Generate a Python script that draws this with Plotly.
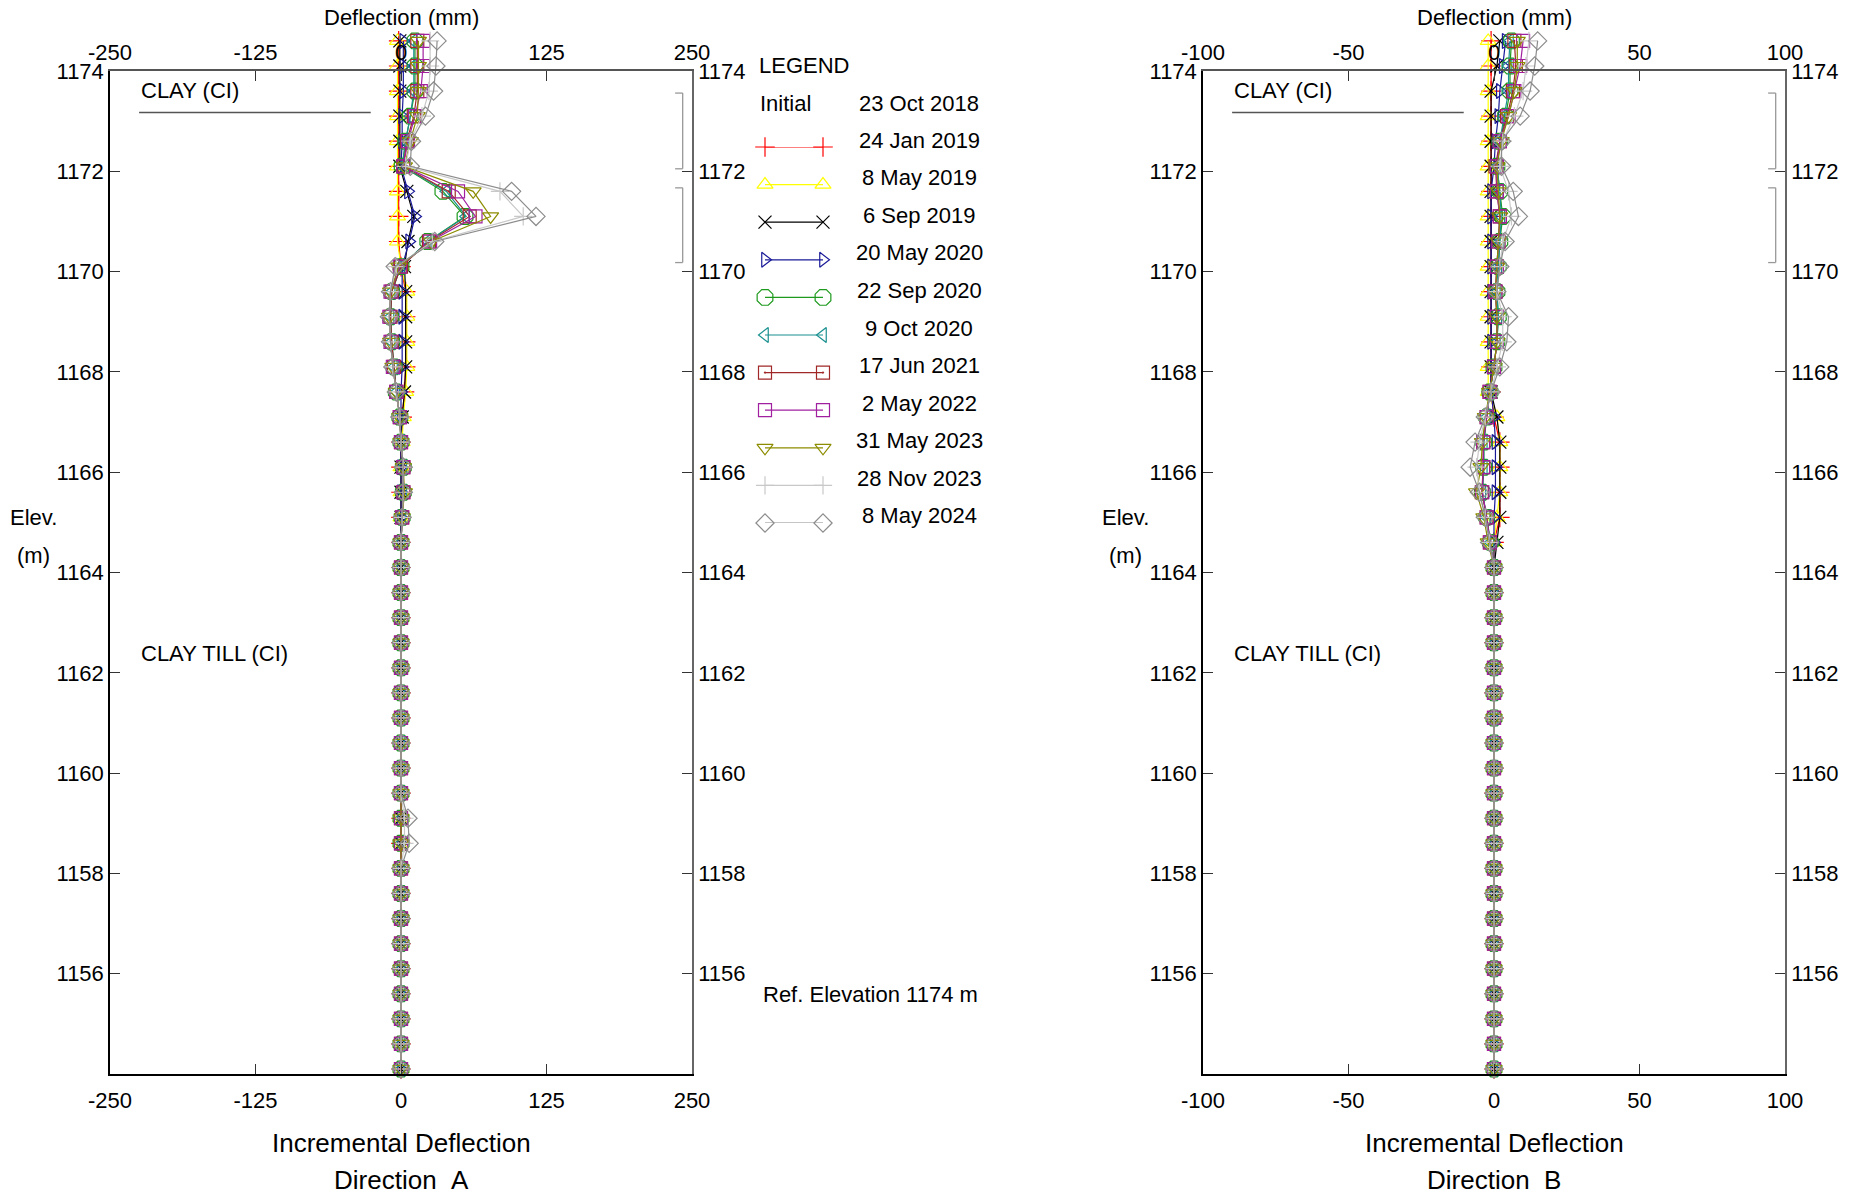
import plotly.graph_objects as go

W, H = 1858, 1196
FONT = "Liberation Sans, Arial, sans-serif"

# ---------------- data ----------------
ELEV = [1174.6, 1174.1, 1173.6, 1173.1, 1172.6, 1172.1, 1171.6, 1171.1, 1170.6, 1170.1,
        1169.6, 1169.1, 1168.6, 1168.1, 1167.6, 1167.1, 1166.6, 1166.1, 1165.6, 1165.1,
        1164.6, 1164.1, 1163.6, 1163.1, 1162.6, 1162.1, 1161.6, 1161.1, 1160.6, 1160.1,
        1159.6, 1159.1, 1158.6, 1158.1, 1157.6, 1157.1, 1156.6, 1156.1, 1155.6, 1155.1,
        1154.6, 1154.1]

INITIAL_DATE = "23 Oct 2018"
DATES = ["24 Jan 2019", "8 May 2019", "6 Sep 2019", "20 May 2020", "22 Sep 2020",
         "9 Oct 2020", "17 Jun 2021", "2 May 2022", "31 May 2023", "28 Nov 2023", "8 May 2024"]

# Direction A (mm)
A_2019_JAN = [-2, -2, -2, -2, -2, -2, -2, -2, -2, 0, 4, 4, 4, 4, 3, 1, 0, 0, 0, 0, 0, 0,
              0, 0, 0, 0, 0, 0, 0, 0, 0, 0, 0, 0, 0, 0, 0, 0, 0, 0, 0, 0]
A_2019_MAY = [-3, -3, -3, -3, -3, -3, -3, -3, -3, 0, 5, 5, 5, 5, 4, 2, 1, 0, 0, 0, 0, 0,
              0, 0, 0, 0, 0, 0, 0, 0, 0, 0, 0, 0, 0, 0, 0, 0, 0, 0, 0, 0]
A_2019_SEP = [-1, -1, -1, -1, -1, -1, 5, 11, 6, 3, 4, 4, 4, 4, 3, 1, 0, 0, 0, 0, 0, 0,
              0, 0, 0, 0, 0, 0, 0, 0, 0, 0, 0, 0, 0, 0, 0, 0, 0, 0, 0, 0]
A_2020_MAY = [2, 2, 2, 1, 1, 0, 6, 12, 7, 1, 1, 1, 1, 1, 0, 0, 0, 0, 0, 0, 0, 0,
              0, 0, 0, 0, 0, 0, 0, 0, 0, 0, 0, 0, 0, 0, 0, 0, 0, 0, 0, 0]
A_2020_SEP = [12, 12, 12, 8, 4, 1, 36, 55, 23, 0, -8, -9, -8, -6, -4, -1, 0, 2, 2, 1, 0, 0,
              0, 0, 0, 0, 0, 0, 0, 0, 0, 0, 0, 0, 0, 0, 0, 0, 0, 0, 0, 0]
A_2020_OCT = [11, 11, 11, 8, 4, 1, 39, 56, 23, 0, -8, -9, -8, -6, -4, -1, 0, 2, 2, 1, 0, 0,
              0, 0, 0, 0, 0, 0, 0, 0, 0, 0, 0, 0, 0, 0, 0, 0, 0, 0, 0, 0]
A_2021_JUN = [14, 14, 14, 11, 5, 2, 41, 59, 24, 0, -8, -9, -8, -6, -4, -1, 0, 2, 2, 1, 0, 0,
              0, 0, 0, 0, 0, 0, 0, 0, 0, 0, 0, 0, 0, 0, 0, 0, 0, 0, 0, 0]
A_2022_MAY = [19, 19, 17, 12, 6, 2, 49, 64, 25, -1, -9, -10, -9, -7, -4, -1, 0, 2, 2, 1, 0, 0,
              0, 0, 0, 0, 0, 0, 0, 0, 0, 0, 0, 0, 0, 0, 0, 0, 0, 0, 0, 0]
A_2023_MAY = [15, 15, 15, 14, 8, 3, 62, 77, 26, -2, -9, -10, -9, -7, -4, -1, 0, 2, 3, 1, 0, 0,
              0, 0, 0, 0, 0, 0, 0, 0, 0, 0, 0, 0, 0, 0, 0, 0, 0, 0, 0, 0]
A_2023_NOV = [25, 25, 24, 18, 8, 4, 85, 105, 27, -4, -9, -10, -9, -7, -4, -1, 0, 2, 2, 1, 0, 0,
              0, 0, 0, 0, 0, 0, 0, 0, 0, 3, 3, 0, 0, 0, 0, 0, 0, 0, 0, 0]
A_2024_MAY = [31, 30, 28, 21, 9, 8, 95, 116, 29, -5, -9, -10, -9, -7, -4, -1, 0, 2, 2, 1, 0, 0,
              0, 0, 0, 0, 0, 0, 0, 0, 0, 6, 7, 0, 0, 0, 0, 0, 0, 0, 0, 0]

# Direction B (mm)
B_2019_JAN = [-1, -1, -1, -1, -1, -1, -1, -1, -1, -1, -1, -1, -1, -1, -1, 0, 2, 2, 2, 2, 0, 0,
              0, 0, 0, 0, 0, 0, 0, 0, 0, 0, 0, 0, 0, 0, 0, 0, 0, 0, 0, 0]
B_2019_MAY = [-2, -2, -2, -2, -2, -2, -2, -2, -2, -2, -2, -2, -2, -2, -2, 1, 2, 2, 2, 1, 0, 0,
              0, 0, 0, 0, 0, 0, 0, 0, 0, 0, 0, 0, 0, 0, 0, 0, 0, 0, 0, 0]
B_2019_SEP = [2, 1, -1, -1, -1, -1, -1, -1, -1, -1, -1, -1, -1, -1, -1, 1, 2, 2, 2, 2, 1, 0,
              0, 0, 0, 0, 0, 0, 0, 0, 0, 0, 0, 0, 0, 0, 0, 0, 0, 0, 0, 0]
B_2020_MAY = [4, 3, 2, 1.5, 0.5, 0, -1, -1, -1, -1, -1, -1, -1, -1, -1, 0, 0.5, 0.5, 0.5, 0, 0, 0,
              0, 0, 0, 0, 0, 0, 0, 0, 0, 0, 0, 0, 0, 0, 0, 0, 0, 0, 0, 0]
B_2020_SEP = [6, 5.5, 5.5, 4, 2, 1, 2, 3, 2, 1.5, 1, 1.5, 1, 0, -1.4, -2.5, -3.5, -3.5, -4, -2.5, -1.2, 0,
              0, 0, 0, 0, 0, 0, 0, 0, 0, 0, 0, 0, 0, 0, 0, 0, 0, 0, 0, 0]
B_2020_OCT = [5.5, 5, 5, 3.5, 2, 1, 2, 2.5, 2, 1.5, 1, 1.5, 1, 0, -1.4, -2.5, -3.5, -3.5, -4, -2.5, -1.2, 0,
              0, 0, 0, 0, 0, 0, 0, 0, 0, 0, 0, 0, 0, 0, 0, 0, 0, 0, 0, 0]
B_2021_JUN = [7, 7.5, 6.5, 4.5, 2, 0.5, 1, 2, 1.5, 1, 0.5, 1, 1, 0, -1.5, -2.5, -3.7, -3.7, -4.2, -2.5, -1.4, 0,
              0, 0, 0, 0, 0, 0, 0, 0, 0, 0, 0, 0, 0, 0, 0, 0, 0, 0, 0, 0]
B_2022_MAY = [10, 9, 7, 5, 2, 1, 1, 2, 1.5, 1, 0.5, 1, 1, 0, -1.5, -2.5, -3.7, -3.7, -4, -2.5, -1.4, 0,
              0, 0, 0, 0, 0, 0, 0, 0, 0, 0, 0, 0, 0, 0, 0, 0, 0, 0, 0, 0]
B_2023_MAY = [8, 8, 7, 5, 2.5, 1, 1.5, 2, 1.5, 1, 0.5, 1, 1, 0, -1.5, -3, -4, -4.5, -6, -3.5, -2, 0,
              0, 0, 0, 0, 0, 0, 0, 0, 0, 0, 0, 0, 0, 0, 0, 0, 0, 0, 0, 0]
B_2023_NOV = [12, 11, 10, 7, 3, 2, 5, 6, 3, 2, 1, 3, 3, 1, -1, -3, -5, -6, -5, -3, -1.5, 0,
              0, 0, 0, 0, 0, 0, 0, 0, 0, 0, 0, 0, 0, 0, 0, 0, 0, 0, 0, 0]
B_2024_MAY = [15, 14, 12.4, 9, 2.6, 2.6, 6.6, 8.4, 3.8, 2, 1, 5, 4.4, 2, -1, -3, -6.5, -8.2, -5, -3, -1.5, 0,
              0, 0, 0, 0, 0, 0, 0, 0, 0, 0, 0, 0, 0, 0, 0, 0, 0, 0, 0, 0]

SERIES_A = [A_2019_JAN, A_2019_MAY, A_2019_SEP, A_2020_MAY, A_2020_SEP, A_2020_OCT,
            A_2021_JUN, A_2022_MAY, A_2023_MAY, A_2023_NOV, A_2024_MAY]
SERIES_B = [B_2019_JAN, B_2019_MAY, B_2019_SEP, B_2020_MAY, B_2020_SEP, B_2020_OCT,
            B_2021_JUN, B_2022_MAY, B_2023_MAY, B_2023_NOV, B_2024_MAY]

COLORS = ["#FF0000", "#FFFF00", "#000000", "#1A1A99", "#1E9A1E", "#1A9090",
          "#A02828", "#A020A0", "#8C8C00", "#C8C8C8", "#8C8C8C"]
SYMBOLS = ["cross-thin", "triangle-up-open", "x-thin", "triangle-right-open", "octagon-open",
           "triangle-left-open", "square-open-dot", "square-open", "triangle-down-open",
           "cross-thin", "diamond-open"]
SIZES = [14, 14, 13, 13, 17, 13, 13, 13, 14, 13, 14]

X_TICKS_A = [-250, -125, 0, 125, 250]
X_TEXT_A = ["-250", "-125", "0", "125", "250"]
X_TICKS_B = [-100, -50, 0, 50, 100]
X_TEXT_B = ["-100", "-50", "0", "50", "100"]
Y_TICKS = [1156, 1158, 1160, 1162, 1164, 1166, 1168, 1170, 1172, 1174]
Y_RANGE = [1154, 1174]
CLAY_BOUNDARY = 1173.17
BRACKETS = [(1173.56, 1172.05), (1171.67, 1170.18)]

# ---------------- layout geometry (pixels) ----------------
L_X0, L_X1 = 110, 692
R_X0, R_X1 = 1203, 1785
Y_TOP, Y_BOT = 71, 1074
PX_PER_M = (Y_BOT - Y_TOP) / (Y_RANGE[1] - Y_RANGE[0])
Y_EXT = 1174.8
Y_TOP_EXT = Y_TOP - (Y_EXT - Y_RANGE[1]) * PX_PER_M


def fx(px):
    return px / W


def fy(py):
    return 1 - py / H


fig = go.Figure()

# data traces
for axis_x, axis_y, series in (("x", "y", SERIES_A), ("x2", "y2", SERIES_B)):
    for i, vals in enumerate(series):
        fig.add_trace(go.Scatter(
            x=vals, y=ELEV, xaxis=axis_x, yaxis=axis_y, mode="lines+markers",
            line=dict(color=COLORS[i], width=1.2),
            marker=dict(symbol=SYMBOLS[i], size=SIZES[i], color=COLORS[i],
                        line=dict(color=COLORS[i], width=1.2)),
            cliponaxis=False, showlegend=False, hoverinfo="skip"))

# dummy traces so frame axes are drawn
for ax, ay in (("x3", "y3"), ("x5", "y5"), ("x4", "y4"), ("x6", "y6")):
    fig.add_trace(go.Scatter(x=[0], y=[1160], xaxis=ax, yaxis=ay, mode="markers",
                             marker=dict(opacity=0), showlegend=False, hoverinfo="skip"))

# legend samples
for i in range(len(DATES)):
    fig.add_trace(go.Scatter(
        x=[0, 1], y=[i, i], xaxis="x7", yaxis="y7", mode="lines+markers",
        line=dict(color=COLORS[i], width=1.2),
        marker=dict(symbol=SYMBOLS[i], size=SIZES[i], color=COLORS[i],
                    line=dict(color=COLORS[i], width=1.2)),
        cliponaxis=False, showlegend=False, hoverinfo="skip"))

tickfont = dict(family=FONT, size=22, color="#000")
hidden = dict(visible=False, fixedrange=True, showgrid=False, zeroline=False, automargin=False)


def frame_axis(**kw):
    d = dict(showgrid=False, zeroline=False, ticks="inside", ticklen=10, tickwidth=1.2,
             tickcolor="#333", showline=True, linewidth=1.5, linecolor="#222",
             tickfont=tickfont, fixedrange=True, automargin=False, tickmode="array")
    d.update(kw)
    return d


dom_y_data = [fy(Y_BOT), fy(Y_TOP_EXT)]
dom_y = [fy(Y_BOT), fy(Y_TOP)]
dom_l = [fx(L_X0), fx(L_X1)]
dom_r = [fx(R_X0), fx(R_X1)]

fig.update_layout(
    template="none",
    width=W, height=H, margin=dict(l=0, r=0, t=0, b=0, pad=0, autoexpand=False),
    paper_bgcolor="white", plot_bgcolor="rgba(0,0,0,0)",
    font=dict(family=FONT, size=22, color="#000"),
    showlegend=False,
    xaxis=dict(domain=dom_l, range=[-250, 250], anchor="y", **hidden),
    yaxis=dict(domain=dom_y_data, range=[Y_RANGE[0], Y_EXT], anchor="x", **hidden),
    xaxis2=dict(domain=dom_r, range=[-100, 100], anchor="y2", **hidden),
    yaxis2=dict(domain=dom_y_data, range=[Y_RANGE[0], Y_EXT], anchor="x2", **hidden),
    xaxis3=frame_axis(domain=dom_l, range=[-250, 250], anchor="y3", side="bottom",
                      tickvals=X_TICKS_A, ticktext=X_TEXT_A, linecolor="#000",
                      ticklabelstandoff=6),
    yaxis3=frame_axis(domain=dom_y, range=Y_RANGE, anchor="x3", side="left",
                      tickvals=Y_TICKS, linecolor="#000"),
    xaxis5=frame_axis(range=[-250, 250], overlaying="x3", anchor="y3", side="top",
                      tickvals=X_TICKS_A, ticktext=X_TEXT_A, linecolor="#555"),
    yaxis5=frame_axis(range=Y_RANGE, overlaying="y3", anchor="x3", side="right",
                      tickvals=Y_TICKS, linecolor="#666"),
    xaxis4=frame_axis(domain=dom_r, range=[-100, 100], anchor="y4", side="bottom",
                      tickvals=X_TICKS_B, ticktext=X_TEXT_B, linecolor="#000",
                      ticklabelstandoff=6),
    yaxis4=frame_axis(domain=dom_y, range=Y_RANGE, anchor="x4", side="left",
                      tickvals=Y_TICKS, linecolor="#000"),
    xaxis6=frame_axis(range=[-100, 100], overlaying="x4", anchor="y4", side="top",
                      tickvals=X_TICKS_B, ticktext=X_TEXT_B, linecolor="#555"),
    yaxis6=frame_axis(range=Y_RANGE, overlaying="y4", anchor="x4", side="right",
                      tickvals=Y_TICKS, linecolor="#666"),
    xaxis7=dict(domain=[fx(765), fx(823)], range=[0, 1], anchor="y7", **hidden),
    yaxis7=dict(domain=[fy(523), fy(147)], range=[len(DATES) - 1, 0], anchor="x7", **hidden),
)

ann = []


def text(x, y, s, size=22, xanchor="center"):
    ann.append(dict(x=fx(x), y=fy(y), xref="paper", yref="paper", text=s, showarrow=False,
                    xanchor=xanchor, yanchor="middle",
                    font=dict(family=FONT, size=size, color="#000")))


for cx, x0, letter, elev_x in ((401, L_X0, "A", 33), (1494, R_X0, "B", 1125)):
    text(cx, 18, "Deflection (mm)")
    text(cx, 1143, "Incremental Deflection", size=26)
    text(cx, 1180, "Direction\u00a0\u00a0" + letter, size=26)
    text(elev_x, 517, "Elev.")
    text(elev_x, 555, "(m)")
    text(x0 + 29, 90, "CLAY (CI)", xanchor="left")
    text(x0 + 29, 653, "CLAY TILL (CI)", xanchor="left")

text(757, 65, "LEGEND", xanchor="left")
text(758, 103, "Initial", xanchor="left")
text(919, 103, INITIAL_DATE)
for i, d in enumerate(DATES):
    text(919, 140 + 37.6 * i, d)
text(870, 994, "Ref. Elevation 1174 m")

shapes = []
for xr, yr in (("x3 domain", "y3"), ("x4 domain", "y4")):
    shapes.append(dict(type="line", xref=xr, yref=yr, x0=0.05, x1=0.448,
                       y0=CLAY_BOUNDARY, y1=CLAY_BOUNDARY, line=dict(color="#555", width=1.5)))
    for top, bot in BRACKETS:
        for seg in ((0.971, top, 0.984, top), (0.984, top, 0.984, bot), (0.984, bot, 0.971, bot)):
            shapes.append(dict(type="line", xref=xr, yref=yr, x0=seg[0], y0=seg[1],
                               x1=seg[2], y1=seg[3], line=dict(color="#999", width=1.3)))

fig.update_layout(annotations=ann, shapes=shapes)
fig.write_html("out.html")
